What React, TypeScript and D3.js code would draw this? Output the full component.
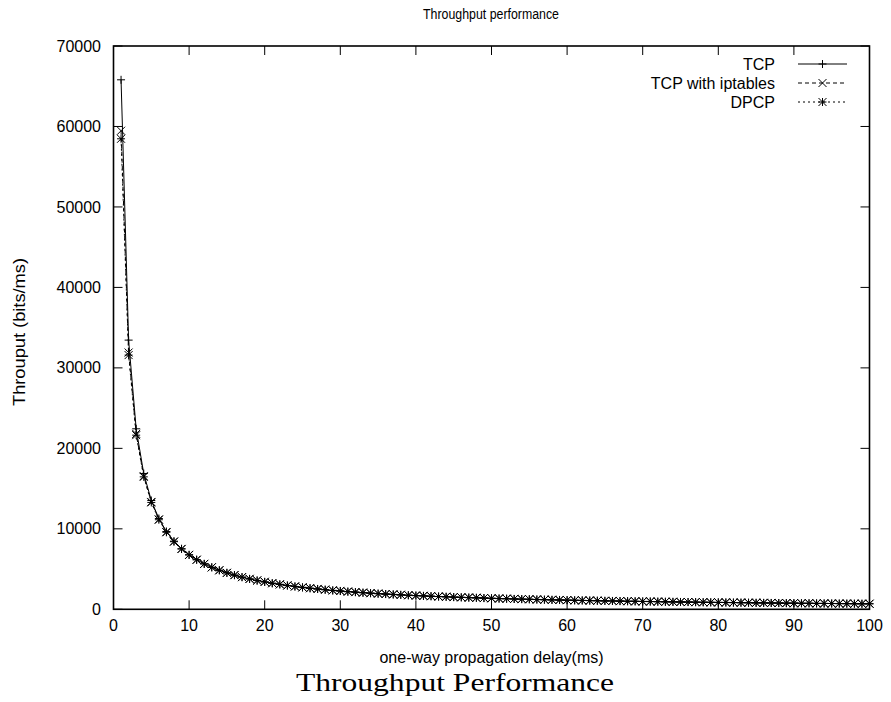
import React from "react";
import * as d3 from "d3";

const delays: number[] = Array.from({ length: 100 }, (_, i) => i + 1);

const tcp: number[] = [
  65800, 33450, 22430, 16870, 13520, 11280, 9670, 8470, 7530, 6780,
  6170, 5650, 5220, 4850, 4530, 4240, 3990, 3770, 3570, 3400,
  3230, 3090, 2950, 2830, 2720, 2610, 2520, 2430, 2340, 2270,
  2190, 2130, 2060, 2000, 1940, 1890, 1840, 1790, 1740, 1700,
  1660, 1620, 1580, 1550, 1510, 1480, 1450, 1420, 1390, 1360,
  1330, 1310, 1280, 1260, 1240, 1210, 1190, 1170, 1150, 1130,
  1110, 1100, 1080, 1060, 1050, 1030, 1020, 1000, 990, 970,
  960, 950, 930, 920, 910, 900, 880, 870, 860, 850,
  840, 830, 820, 810, 800, 790, 780, 770, 760, 760,
  750, 740, 730, 720, 720, 710, 700, 690, 690, 680,
];

const tcpIptables: number[] = [
  59470, 31910, 21800, 16550, 13340, 11170, 9610, 8430, 7510, 6770,
  6160, 5650, 5220, 4850, 4530, 4250, 4000, 3780, 3590, 3410,
  3250, 3100, 2970, 2840, 2730, 2630, 2530, 2440, 2360, 2280,
  2200, 2140, 2070, 2010, 1950, 1900, 1850, 1800, 1750, 1710,
  1670, 1630, 1590, 1560, 1520, 1490, 1460, 1430, 1400, 1370,
  1340, 1320, 1290, 1270, 1250, 1220, 1200, 1180, 1160, 1140,
  1120, 1100, 1090, 1070, 1050, 1040, 1020, 1010, 990, 980,
  970, 950, 940, 930, 910, 900, 890, 880, 870, 860,
  850, 840, 830, 820, 810, 800, 790, 780, 770, 760,
  750, 750, 740, 730, 720, 710, 710, 700, 690, 690,
];

const dpcp: number[] = [
  58470, 31590, 21640, 16460, 13280, 11130, 9570, 8400, 7490, 6750,
  6150, 5640, 5210, 4850, 4530, 4250, 4000, 3780, 3580, 3410,
  3240, 3100, 2960, 2840, 2730, 2620, 2530, 2440, 2350, 2280,
  2200, 2140, 2070, 2010, 1950, 1900, 1850, 1800, 1750, 1710,
  1670, 1630, 1590, 1560, 1520, 1490, 1460, 1430, 1400, 1370,
  1340, 1320, 1290, 1270, 1250, 1220, 1200, 1180, 1160, 1140,
  1120, 1100, 1090, 1070, 1050, 1040, 1020, 1010, 990, 980,
  970, 950, 940, 930, 910, 900, 890, 880, 870, 860,
  850, 840, 830, 820, 810, 800, 790, 780, 770, 760,
  750, 750, 740, 730, 720, 710, 710, 700, 690, 690,
];

const seriesNames: string[] = ["TCP", "TCP with iptables", "DPCP"];
const xTicks: number[] = [0, 10, 20, 30, 40, 50, 60, 70, 80, 90, 100];
const yTicks: number[] = [0, 10000, 20000, 30000, 40000, 50000, 60000, 70000];

const W = 891;
const H = 702;
const L = 113.5;
const R = 869.5;
const T = 46;
const B = 609.3;

const FONT = "'Liberation Sans', Arial, Helvetica, sans-serif";

function Marker({ kind, x, y }: { kind: string; x: number; y: number }) {
  const s = 4;
  const p = `M${x - s},${y}H${x + s}M${x},${y - s}V${y + s}`;
  const c = `M${x - s},${y - s}L${x + s},${y + s}M${x - s},${y + s}L${x + s},${y - s}`;
  const d = kind === "plus" ? p : kind === "cross" ? c : p + c;
  return <path d={d} stroke="#000" strokeWidth={1} fill="none" />;
}

export default function App() {
  const x = d3.scaleLinear().domain([0, 100]).range([L, R]);
  const y = d3.scaleLinear().domain([0, 70000]).range([B, T]);

  const series = [
    { name: seriesNames[0], data: tcp, kind: "plus", dash: undefined as string | undefined },
    { name: seriesNames[1], data: tcpIptables, kind: "cross", dash: "4,3" },
    { name: seriesNames[2], data: dpcp, kind: "star", dash: "2,3" },
  ];

  const line = d3
    .line<number>()
    .x((_, i) => x(delays[i]))
    .y((d) => y(d));

  const tickLen = 9;

  return (
    <div style={{ position: "fixed", left: 0, top: 0 }}>
      <svg width={W} height={H} style={{ display: "block", background: "#fff" }}>
        <rect x={0} y={0} width={W} height={H} fill="#fff" />
        <text x={491} y={19} textAnchor="middle" fontFamily={FONT} fontSize={14} textLength={136} lengthAdjust="spacingAndGlyphs">
          Throughput performance
        </text>

        {/* ticks */}
        {xTicks.map((t) => (
          <g key={"xt" + t}>
            <line x1={x(t)} x2={x(t)} y1={B} y2={B - tickLen} stroke="#000" strokeWidth={1} />
            <line x1={x(t)} x2={x(t)} y1={T} y2={T + tickLen} stroke="#000" strokeWidth={1} />
            <text x={x(t)} y={631} textAnchor="middle" fontFamily={FONT} fontSize={16}>
              {t}
            </text>
          </g>
        ))}
        {yTicks.map((t) => (
          <g key={"yt" + t}>
            <line x1={L} x2={L + tickLen} y1={y(t)} y2={y(t)} stroke="#000" strokeWidth={1} />
            <line x1={R} x2={R - tickLen} y1={y(t)} y2={y(t)} stroke="#000" strokeWidth={1} />
            <text x={101} y={y(t)} dy="0.35em" textAnchor="end" fontFamily={FONT} fontSize={16}>
              {t}
            </text>
          </g>
        ))}

        {/* series */}
        {series.map((s) => (
          <g key={s.name}>
            <path d={line(s.data) || ""} fill="none" stroke="#000" strokeWidth={1} strokeDasharray={s.dash} />
            {s.data.map((v, i) => (
              <Marker key={i} kind={s.kind} x={x(delays[i])} y={y(v)} />
            ))}
          </g>
        ))}

        {/* border */}
        <rect x={L} y={T} width={R - L} height={B - T} fill="none" stroke="#000" strokeWidth={1.6} />

        {/* legend */}
        {series.map((s, i) => {
          const ly = 64 + i * 19;
          return (
            <g key={"lg" + s.name}>
              <text x={775} y={ly} dy="0.35em" textAnchor="end" fontFamily={FONT} fontSize={16}>
                {s.name}
              </text>
              <line x1={798} x2={847} y1={ly} y2={ly} stroke="#000" strokeWidth={1} strokeDasharray={s.dash} />
              <Marker kind={s.kind} x={822.5} y={ly} />
            </g>
          );
        })}

        {/* axis labels */}
        <text x={(L + R) / 2} y={663} textAnchor="middle" fontFamily={FONT} fontSize={16}>
          one-way propagation delay(ms)
        </text>
        <text
          transform={`translate(25,332) rotate(-90)`}
          textAnchor="middle"
          fontFamily={FONT}
          fontSize={16}
          textLength={148}
          lengthAdjust="spacingAndGlyphs"
        >
          Throuput (bits/ms)
        </text>

        <text x={455} y={691} textAnchor="middle" fontFamily="'Liberation Serif', 'DejaVu Serif', serif" fontSize={25} textLength={318} lengthAdjust="spacingAndGlyphs">
          Throughput Performance
        </text>
      </svg>
    </div>
  );
}
